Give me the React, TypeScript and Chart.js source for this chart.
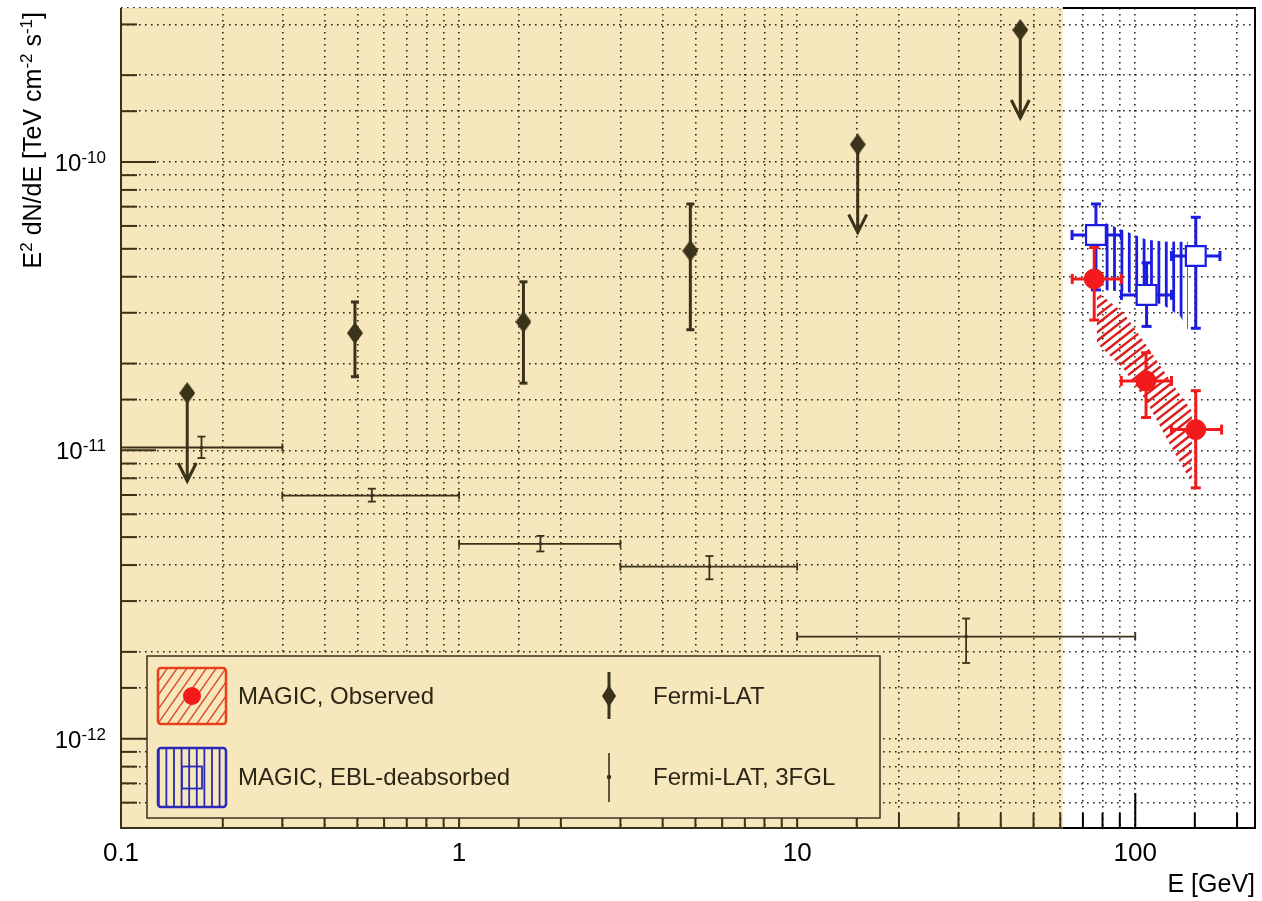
import React, { useEffect, useRef } from "react";
import { Chart, registerables } from "chart.js";

Chart.register(...registerables);

// ---------- axes ----------
const xRange = [0.1, 226];
const yRange = [4.9e-13, 3.42e-10];
const fermiRegionMax = 61; // GeV, end of the shaded Fermi-LAT region

const xTickValues = [0.1, 1, 10, 100];
const xTickLabels = ["0.1", "1", "10", "100"];
const yTickValues = [1e-12, 1e-11, 1e-10];
const yTickExponents = ["-12", "-11", "-10"];

// ---------- Fermi-LAT ----------
const fermiE = [0.157, 0.492, 1.55, 4.83, 15.1, 45.7];
const fermiF = [1.58e-11, 2.55e-11, 2.79e-11, 4.92e-11, 1.15e-10, 2.87e-10];
const fermiErrHi = [null, 3.27e-11, 3.84e-11, 7.15e-11, null, null];
const fermiErrLo = [null, 1.8e-11, 1.71e-11, 2.62e-11, null, null];
const fermiUpperLimit = [true, false, false, false, true, true];

// ---------- Fermi-LAT 3FGL ----------
const fglE = [0.173, 0.552, 1.74, 5.5, 31.6];
const fglBinLo = [0.1, 0.3, 1, 3, 10];
const fglBinHi = [0.3, 1, 3, 10, 100];
const fglF = [1.023e-11, 6.97e-12, 4.74e-12, 3.95e-12, 2.26e-12];
const fglErrHi = [1.116e-11, 7.36e-12, 5.05e-12, 4.3e-12, 2.61e-12];
const fglErrLo = [9.4e-12, 6.64e-12, 4.46e-12, 3.57e-12, 1.83e-12];

// ---------- MAGIC observed ----------
const magE = [75.6, 107.6, 151];
const magF = [3.93e-11, 1.74e-11, 1.18e-11];
const magELo = [65.1, 90.9, 128];
const magEHi = [90.9, 128, 180];
const magErrHi = [5.05e-11, 2.18e-11, 1.61e-11];
const magErrLo = [2.83e-11, 1.3e-11, 7.41e-12];

// ---------- MAGIC EBL-deabsorbed ----------
const eblE = [76.5, 108, 151];
const eblF = [5.58e-11, 3.46e-11, 4.72e-11];
const eblELo = [65, 91, 128];
const eblEHi = [91, 128, 178];
const eblErrHi = [7.15e-11, 4.47e-11, 6.43e-11];
const eblErrLo = [3.6e-11, 2.69e-11, 2.65e-11];

// ---------- butterfly bands ----------
const obsBandE = [77, 92.3, 108.3, 127, 147];
const obsBandHi = [3.55e-11, 3.0e-11, 2.3e-11, 1.74e-11, 1.37e-11];
const obsBandLo = [2.35e-11, 1.92e-11, 1.47e-11, 1.04e-11, 7.7e-12];

const eblBandE = [80, 94.5, 108, 121, 136, 143];
const eblBandHi = [6.21e-11, 5.73e-11, 5.37e-11, 5.3e-11, 5.29e-11, 5.29e-11];
const eblBandLo = [3.6e-11, 3.55e-11, 3.32e-11, 3.19e-11, 2.91e-11, 2.62e-11];

// ---------- legend ----------
const legendLabels = ["MAGIC, Observed", "MAGIC, EBL-deabsorbed", "Fermi-LAT", "Fermi-LAT, 3FGL"];
const xTitle = "E [GeV]";

// ---------- styles ----------
const FONT = '"Liberation Sans", Arial, Helvetica, sans-serif';
const TAN = "#f6e7bd";
const OLIVE = "#3b321a";
const RED = "#f21a1a";
const BLUE = "#1c1ce0";
const GRID = "#2a2616";

function isDecade(v) {
  const l = Math.log10(v);
  return Math.abs(l - Math.round(l)) < 1e-6;
}

function line(ctx, x1, y1, x2, y2) {
  ctx.beginPath();
  ctx.moveTo(x1, y1);
  ctx.lineTo(x2, y2);
  ctx.stroke();
}

function hatch(ctx, poly, angleDeg, spacing, color, lw) {
  ctx.save();
  ctx.beginPath();
  poly.forEach((p, i) => (i ? ctx.lineTo(p[0], p[1]) : ctx.moveTo(p[0], p[1])));
  ctx.closePath();
  ctx.clip();
  const xs = poly.map((p) => p[0]);
  const ys = poly.map((p) => p[1]);
  const minX = Math.min(...xs), maxX = Math.max(...xs);
  const minY = Math.min(...ys), maxY = Math.max(...ys);
  const cx = (minX + maxX) / 2, cy = (minY + maxY) / 2;
  const R = Math.hypot(maxX - minX, maxY - minY) + 4;
  const th = (angleDeg * Math.PI) / 180;
  const dx = Math.cos(th), dy = -Math.sin(th);
  const nx = -dy, ny = dx;
  ctx.strokeStyle = color;
  ctx.lineWidth = lw;
  ctx.beginPath();
  for (let t = -R; t <= R; t += spacing) {
    const ox = cx + nx * t, oy = cy + ny * t;
    ctx.moveTo(ox - dx * R, oy - dy * R);
    ctx.lineTo(ox + dx * R, oy + dy * R);
  }
  ctx.stroke();
  ctx.restore();
}

function vErr(ctx, x, yTop, yBot, cap) {
  line(ctx, x, yTop, x, yBot);
  if (cap > 0) {
    line(ctx, x - cap, yTop, x + cap, yTop);
    line(ctx, x - cap, yBot, x + cap, yBot);
  }
}
function hErr(ctx, y, xL, xR, cap) {
  line(ctx, xL, y, xR, y);
  if (cap > 0) {
    line(ctx, xL, y - cap, xL, y + cap);
    line(ctx, xR, y - cap, xR, y + cap);
  }
}

function drawRich(ctx, parts, x, y, size, supSize, raise, align) {
  const widths = parts.map((p) => {
    ctx.font = `${p.sup ? supSize : size}px ${FONT}`;
    return ctx.measureText(p.t).width;
  });
  const total = widths.reduce((s, w) => s + w, 0);
  let cx = align === "right" ? x - total : align === "center" ? x - total / 2 : x;
  ctx.textAlign = "left";
  ctx.textBaseline = "alphabetic";
  parts.forEach((p, i) => {
    ctx.font = `${p.sup ? supSize : size}px ${FONT}`;
    ctx.fillText(p.t, cx, p.sup ? y - raise : y);
    cx += widths[i];
  });
}

function makeDiamond(w, h, color) {
  const c = document.createElement("canvas");
  c.width = w;
  c.height = h;
  const g = c.getContext("2d");
  g.fillStyle = color;
  g.beginPath();
  g.moveTo(w / 2, 0);
  g.lineTo(w, h / 2);
  g.lineTo(w / 2, h);
  g.lineTo(0, h / 2);
  g.closePath();
  g.fill();
  return c;
}

const sedPlugin = {
  id: "sedPlugin",
  beforeDraw(chart) {
    const { ctx, chartArea: a } = chart;
    const xr = chart.scales.x.getPixelForValue(fermiRegionMax);
    ctx.save();
    ctx.fillStyle = "#ffffff";
    ctx.fillRect(0, 0, chart.width, chart.height);
    ctx.fillStyle = TAN;
    ctx.fillRect(a.left, a.top, xr - a.left, a.bottom - a.top);
    ctx.restore();
  },
  beforeDatasetsDraw(chart) {
    const { ctx, chartArea: a } = chart;
    const X = (v) => chart.scales.x.getPixelForValue(v);
    const Y = (v) => chart.scales.y.getPixelForValue(v);
    ctx.save();
    ctx.beginPath();
    ctx.rect(a.left, a.top, a.right - a.left, a.bottom - a.top);
    ctx.clip();
    ctx.lineCap = "butt";

    // EBL band (vertical hatch)
    const eblPoly = [];
    eblBandE.forEach((e, i) => eblPoly.push([X(e), Y(eblBandHi[i])]));
    for (let i = eblBandE.length - 1; i >= 0; i--) eblPoly.push([X(eblBandE[i]), Y(eblBandLo[i])]);
    hatch(ctx, eblPoly, 90, 7.4, BLUE, 2.8);

    // Observed band (diagonal hatch)
    const obsPoly = [];
    obsBandE.forEach((e, i) => obsPoly.push([X(e), Y(obsBandHi[i])]));
    for (let i = obsBandE.length - 1; i >= 0; i--) obsPoly.push([X(obsBandE[i]), Y(obsBandLo[i])]);
    hatch(ctx, obsPoly, 38, 6.6, "#d82222", 2.4);

    // 3FGL
    ctx.strokeStyle = OLIVE;
    ctx.lineWidth = 1.8;
    fglE.forEach((e, i) => {
      const y = Y(fglF[i]);
      hErr(ctx, y, X(fglBinLo[i]), X(fglBinHi[i]), 4);
      vErr(ctx, X(e), Y(fglErrHi[i]), Y(fglErrLo[i]), 4);
    });

    // Fermi-LAT
    ctx.lineWidth = 3;
    fermiE.forEach((e, i) => {
      const x = X(e), y = Y(fermiF[i]);
      if (fermiUpperLimit[i]) {
        const tip = y + 88;
        line(ctx, x, y, x, tip);
        ctx.beginPath();
        ctx.moveTo(x - 9, tip - 18);
        ctx.lineTo(x, tip);
        ctx.lineTo(x + 9, tip - 18);
        ctx.stroke();
      } else {
        vErr(ctx, x, Y(fermiErrHi[i]), Y(fermiErrLo[i]), 4);
      }
    });

    // EBL-deabsorbed errors
    ctx.strokeStyle = BLUE;
    ctx.lineWidth = 3;
    eblE.forEach((e, i) => {
      const x = X(e), y = Y(eblF[i]);
      vErr(ctx, x, Y(eblErrHi[i]), Y(eblErrLo[i]), 5);
      hErr(ctx, y, X(eblELo[i]), X(eblEHi[i]), 5);
    });

    // observed errors
    ctx.strokeStyle = RED;
    magE.forEach((e, i) => {
      const x = X(e), y = Y(magF[i]);
      vErr(ctx, x, Y(magErrHi[i]), Y(magErrLo[i]), 5);
      hErr(ctx, y, X(magELo[i]), X(magEHi[i]), 5);
    });
    ctx.restore();
  },
  afterDatasetsDraw(chart) {
    const { ctx, chartArea: a } = chart;
    const xs = chart.scales.x, ys = chart.scales.y;
    const xr = xs.getPixelForValue(fermiRegionMax);
    ctx.save();
    ctx.lineCap = "butt";

    // inward ticks
    ctx.lineWidth = 2;
    ys.ticks.forEach((t) => {
      const v = t.value;
      if (v <= yRange[0] * 1.001 || v >= yRange[1] * 0.999) return;
      const p = ys.getPixelForValue(v);
      ctx.strokeStyle = OLIVE;
      line(ctx, a.left, p, a.left + (isDecade(v) ? 35 : 16), p);
    });
    xs.ticks.forEach((t) => {
      const v = t.value;
      if (v <= xRange[0] * 1.001 || v >= xRange[1] * 0.999) return;
      const p = xs.getPixelForValue(v);
      ctx.strokeStyle = p < xr ? OLIVE : "#000";
      line(ctx, p, a.bottom, p, a.bottom - (isDecade(v) ? 35 : 15));
    });

    // frame
    ctx.lineWidth = 2;
    ctx.strokeStyle = "#000";
    ctx.beginPath();
    ctx.moveTo(xr, a.top);
    ctx.lineTo(a.right, a.top);
    ctx.lineTo(a.right, a.bottom);
    ctx.lineTo(xr, a.bottom);
    ctx.stroke();
    ctx.strokeStyle = OLIVE;
    ctx.beginPath();
    ctx.moveTo(xr, a.bottom);
    ctx.lineTo(a.left, a.bottom);
    ctx.lineTo(a.left, a.top);
    ctx.stroke();
    ctx.strokeStyle = "#ead9a8";
    ctx.lineWidth = 1;
    line(ctx, a.left + 1, a.top + 0.5, xr, a.top + 0.5);

    // legend box
    const L = { x: 147, y: 656, w: 733, h: 162 };
    ctx.fillStyle = TAN;
    ctx.fillRect(L.x, L.y, L.w, L.h);
    ctx.strokeStyle = OLIVE;
    ctx.lineWidth = 1.5;
    ctx.strokeRect(L.x, L.y, L.w, L.h);

    // red entry
    const r1 = { x: 158, y: 668, w: 68, h: 56 };
    hatch(ctx, [[r1.x, r1.y], [r1.x + r1.w, r1.y], [r1.x + r1.w, r1.y + r1.h], [r1.x, r1.y + r1.h]], 55, 8, "#e0502c", 1.5);
    ctx.strokeStyle = "#e8401c";
    ctx.lineWidth = 2.5;
    ctx.beginPath();
    ctx.roundRect(r1.x, r1.y, r1.w, r1.h, 3);
    ctx.stroke();
    ctx.fillStyle = RED;
    ctx.beginPath();
    ctx.arc(r1.x + r1.w / 2, r1.y + r1.h / 2, 9, 0, Math.PI * 2);
    ctx.fill();

    // blue entry
    const r2 = { x: 158, y: 748, w: 68, h: 59 };
    hatch(ctx, [[r2.x, r2.y], [r2.x + r2.w, r2.y], [r2.x + r2.w, r2.y + r2.h], [r2.x, r2.y + r2.h]], 90, 7.6, "#2a2ab0", 1.8);
    ctx.strokeStyle = "#2a2ab8";
    ctx.lineWidth = 2.5;
    ctx.beginPath();
    ctx.roundRect(r2.x, r2.y, r2.w, r2.h, 3);
    ctx.stroke();
    ctx.lineWidth = 1.8;
    ctx.strokeRect(r2.x + r2.w / 2 - 10, r2.y + r2.h / 2 - 11, 20, 22);

    // Fermi entries
    const fx = 609;
    ctx.strokeStyle = OLIVE;
    ctx.fillStyle = OLIVE;
    ctx.lineWidth = 3;
    line(ctx, fx, 672, fx, 719);
    ctx.beginPath();
    ctx.moveTo(fx, 685);
    ctx.lineTo(fx + 7, 696);
    ctx.lineTo(fx, 707);
    ctx.lineTo(fx - 7, 696);
    ctx.closePath();
    ctx.fill();
    ctx.lineWidth = 1.6;
    line(ctx, fx, 753, fx, 802);
    ctx.beginPath();
    ctx.arc(fx, 777, 2.2, 0, Math.PI * 2);
    ctx.fill();

    ctx.fillStyle = "#2c2616";
    ctx.font = `24px ${FONT}`;
    ctx.textAlign = "left";
    ctx.textBaseline = "middle";
    ctx.fillText(legendLabels[0], 238, 697);
    ctx.fillText(legendLabels[1], 238, 778);
    ctx.fillText(legendLabels[2], 653, 697);
    ctx.fillText(legendLabels[3], 653, 778);

    // tick labels
    ctx.fillStyle = "#000";
    yTickValues.forEach((v, i) => {
      const p = ys.getPixelForValue(v);
      drawRich(ctx, [{ t: "10" }, { t: yTickExponents[i], sup: true }], 106, p + 9, 24, 17, 8, "right");
    });
    ctx.font = `26px ${FONT}`;
    ctx.textAlign = "center";
    ctx.textBaseline = "alphabetic";
    xTickValues.forEach((v, i) => {
      ctx.fillText(xTickLabels[i], xs.getPixelForValue(v), 861);
    });
    ctx.font = `25px ${FONT}`;
    ctx.textAlign = "right";
    ctx.fillText(xTitle, a.right, 892);

    // y title
    ctx.save();
    ctx.translate(41, 12);
    ctx.rotate(-Math.PI / 2);
    drawRich(
      ctx,
      [
        { t: "E" },
        { t: "2", sup: true },
        { t: " dN/dE [TeV cm" },
        { t: "-2", sup: true },
        { t: " s" },
        { t: "-1", sup: true },
        { t: "]" },
      ],
      0, 0, 25, 17, 9, "right"
    );
    ctx.restore();

    ctx.restore();
  },
};

export default function App() {
  const ref = useRef(null);
  useEffect(() => {
    const canvas = ref.current;
    const diamond = makeDiamond(16, 22, OLIVE);
    const chart = new Chart(canvas, {
      type: "scatter",
      data: {
        datasets: [
          {
            label: legendLabels[0],
            data: magE.map((e, i) => ({ x: e, y: magF[i] })),
            pointStyle: "circle",
            pointRadius: 10,
            backgroundColor: RED,
            borderColor: RED,
            borderWidth: 1,
          },
          {
            label: legendLabels[1],
            data: eblE.map((e, i) => ({ x: e, y: eblF[i] })),
            pointStyle: "rect",
            pointRadius: 14,
            backgroundColor: "#ffffff",
            borderColor: BLUE,
            borderWidth: 2.2,
          },
          {
            label: legendLabels[2],
            data: fermiE.map((e, i) => ({ x: e, y: fermiF[i] })),
            pointStyle: diamond,
            pointRadius: 10,
          },
          {
            label: legendLabels[3],
            data: fglE.map((e, i) => ({ x: e, y: fglF[i] })),
            pointStyle: "circle",
            pointRadius: 1.8,
            backgroundColor: OLIVE,
            borderColor: OLIVE,
            borderWidth: 0,
          },
        ],
      },
      options: {
        responsive: false,
        animation: false,
        devicePixelRatio: 1,
        events: [],
        layout: { autoPadding: false, padding: { top: 8, right: 7, left: 0, bottom: 0 } },
        plugins: { legend: { display: false }, tooltip: { enabled: false }, title: { display: false } },
        scales: {
          x: {
            type: "logarithmic",
            position: "bottom",
            min: xRange[0],
            max: xRange[1],
            ticks: { display: false, autoSkip: false },
            grid: { color: GRID, lineWidth: 1.6, drawTicks: false },
            border: { display: false, dash: [1.6, 4.4] },
            afterFit: (s) => {
              s.height = 73;
            },
          },
          y: {
            type: "logarithmic",
            position: "left",
            min: yRange[0],
            max: yRange[1],
            ticks: { display: false, autoSkip: false },
            grid: { color: GRID, lineWidth: 1.6, drawTicks: false },
            border: { display: false, dash: [1.6, 4.4] },
            afterFit: (s) => {
              s.width = 121;
            },
          },
        },
      },
      plugins: [sedPlugin],
    });
    return () => chart.destroy();
  }, []);
  return (
    <div style={{ position: "fixed", left: 0, top: 0, width: 1262, height: 901, background: "#fff" }}>
      <canvas ref={ref} width={1262} height={901} style={{ display: "block" }} />
    </div>
  );
}
